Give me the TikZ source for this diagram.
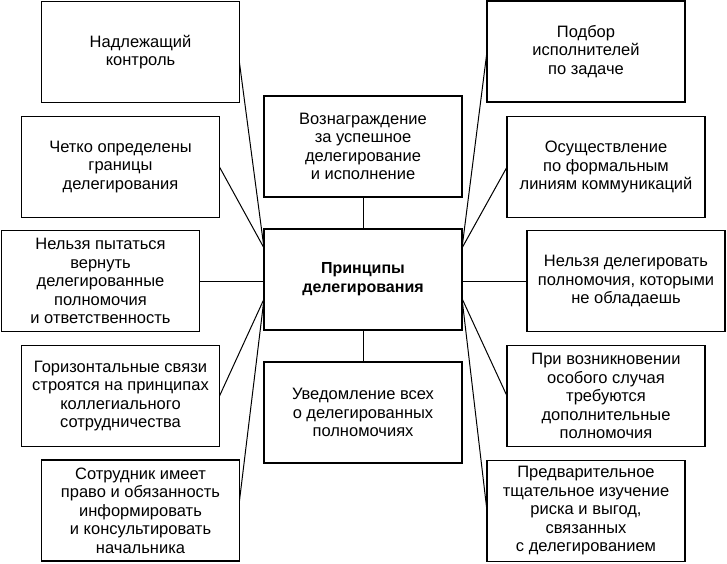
\documentclass[tikz,border=0pt]{standalone}
\usepackage{fontspec}
\setmainfont{Liberation Sans}
\usetikzlibrary{calc}
\begin{document}
\begin{tikzpicture}[x=1pt,y=-1pt,font=\fontsize{16.5}{18.5}\selectfont]
\tikzstyle{b}=[draw,line width=1.3pt,minimum width=198pt,minimum height=101pt,align=center,inner sep=2pt,outer sep=0pt]
\tikzstyle{l}=[line width=1pt]
\useasboundingbox (0,0) rectangle (727,563);
% left column
\foreach \n/\x/\y/\t in {l1/140.5/52/{Надлежащий\\контроль},
  l2/120.5/167/{Четко определены\\границы\\делегирования},
  l3/100.5/281/{Нельзя пытаться\\вернуть\\делегированные\\полномочия\\и ответственность},
  l4/120.5/396/{Горизонтальные связи\\строятся на принципах\\коллегиального\\сотрудничества},
  l5/140.5/510.5/{Сотрудник имеет\\право и обязанность\\информировать\\и консультировать\\начальника}}
  \node[b] (\n) at (\x,\y) {\t};
% right column
\foreach \n/\x/\y/\t in {r1/586/51.5/{Подбор\\исполнителей\\по задаче},
  r2/606/167/{Осуществление\\по формальным\\линиям коммуникаций},
  r3/626/281/{Нельзя делегировать\\полномочия, которыми\\не обладаешь},
  r4/606/396/{При возникновении\\особого случая\\требуются\\дополнительные\\полномочия},
  r5/586/511/{Предварительное\\тщательное изучение\\риска и выгод,\\связанных\\с делегированием}}
  \node[b] (\n) at (\x,\y) {\t};
% middle
\node[b] (top) at (363,146.5) {Вознаграждение\\за успешное\\делегирование\\и исполнение};
\node[b,font=\fontsize{16}{19}\selectfont\bfseries] (c) at (363,279.5) {Принципы\\делегирования};
\node[b] (bot) at (363,412.5) {Уведомление всех\\о делегированных\\полномочиях};
\coordinate (cwu) at ($(c.west)+(0,-31.5)$);
\coordinate (cwd) at ($(c.west)+(0,19.5)$);
\coordinate (ceu) at ($(c.east)+(0,-31.5)$);
\coordinate (ced) at ($(c.east)+(0,19)$);
\draw[l] (top) -- (c);
\draw[l] (c) -- (bot);
\draw[l] ([yshift=-11pt]l1.east) -- (cwu);
\draw[l] (l2.east) -- (cwu);
\draw[l] (l3.east) -- (l3.east -| c.west);
\draw[l] (l4.east) -- (cwd);
\draw[l] ([yshift=10pt]l5.east) -- (cwd);
\draw[l] (r1.west) -- (ceu);
\draw[l] (r2.west) -- (ceu);
\draw[l] (r3.west) -- (r3.west -| c.east);
\draw[l] (r4.west) -- (ced);
\draw[l] (r5.west) -- (ced);
\end{tikzpicture}
\end{document}
